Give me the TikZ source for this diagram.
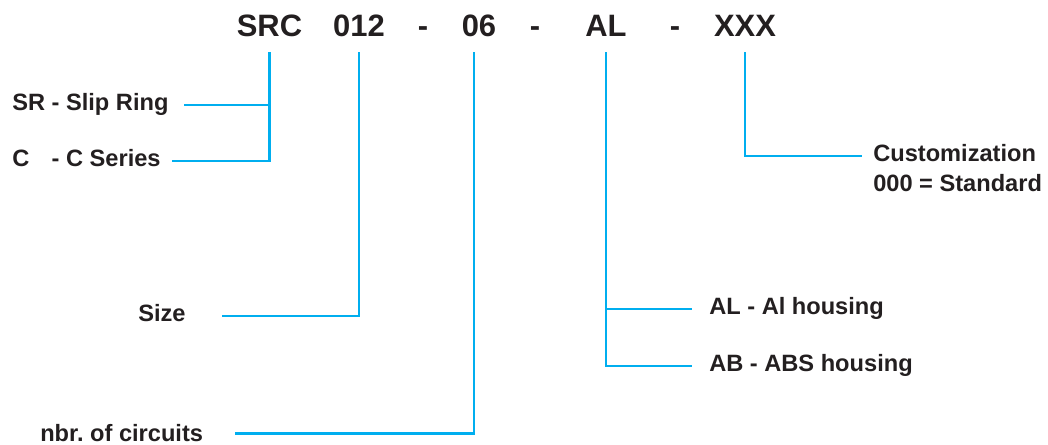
\documentclass[tikz,border=0pt]{standalone}
\usepackage{fontspec}
\setmainfont{Liberation Sans}
\usetikzlibrary{calc}
\definecolor{leadblue}{RGB}{0,174,239}
\definecolor{inkgray}{RGB}{35,31,32}

\begin{document}
\begin{tikzpicture}[
			x=0.025cm, y=-0.025cm,
			code/.style={anchor=base, inner xsep=0pt, inner ysep=10.5pt, text depth=0pt, text=inkgray, font=\fontsize{22}{26}\selectfont\bfseries},
			desc/.style={anchor=base west, inner sep=0pt, text height=12pt, text depth=3.5pt, text=inkgray, font=\fontsize{16.8}{20}\selectfont\bfseries},
			lead/.style={draw=leadblue, line width=1.8pt}
			]
			\useasboundingbox (0,0) rectangle (1048,445);
			
			\node[code] (src) at (269.5,37) {SRC};
			\node[code] (size) at (359,37) {012};
			\node[code] (d1) at (423,37) {-};
			\node[code] (circ) at (479,37) {06};
			\node[code] (d2) at (535,37) {-};
			\node[code] (hous) at (606,37) {AL};
			\node[code] (d3) at (675,37) {-};
			\node[code] (cust) at (745,37) {XXX};
			
			\node[desc] (slipring) at (12,111) {SR - Slip Ring};
			\node[desc] (cseries) at (12,167) {\rlap{C}\phantom{SR} - C Series};
			\node[desc] (sizetxt) at (138,322) {Size};
			\node[desc, text depth=0pt] (circtxt) at (40,442) {nbr.\ of circuits};
			\node[desc] (altxt) at (709,315) {AL - Al housing};
			\node[desc] (abtxt) at (709,372) {AB - ABS housing};
			\node[desc] (custtxt) at (873,162) {Customization};
			\node[desc] (stdtxt) at (873,192) {000 = Standard};
			
			\draw[lead] (src.south) |- ($(slipring.east)+(15,0)$);
			\draw[lead] (src.south) |- ($(cseries.east)+(11,0)$);
			\draw[lead] (size.south) |- ($(sizetxt.east)+(36,0)$);
			\draw[lead] ([xshift=-3.6pt]circ.south) |- ($(circtxt.east)+(32,0)$);
			\draw[lead] (hous.south) |- ($(altxt.west)+(-17,0)$);
			\draw[lead] (hous.south) |- ($(abtxt.west)+(-17,0)$);
			\draw[lead] (cust.south) |- ($(custtxt.west)+(-11,0)$);
		\end{tikzpicture}
\end{document}
